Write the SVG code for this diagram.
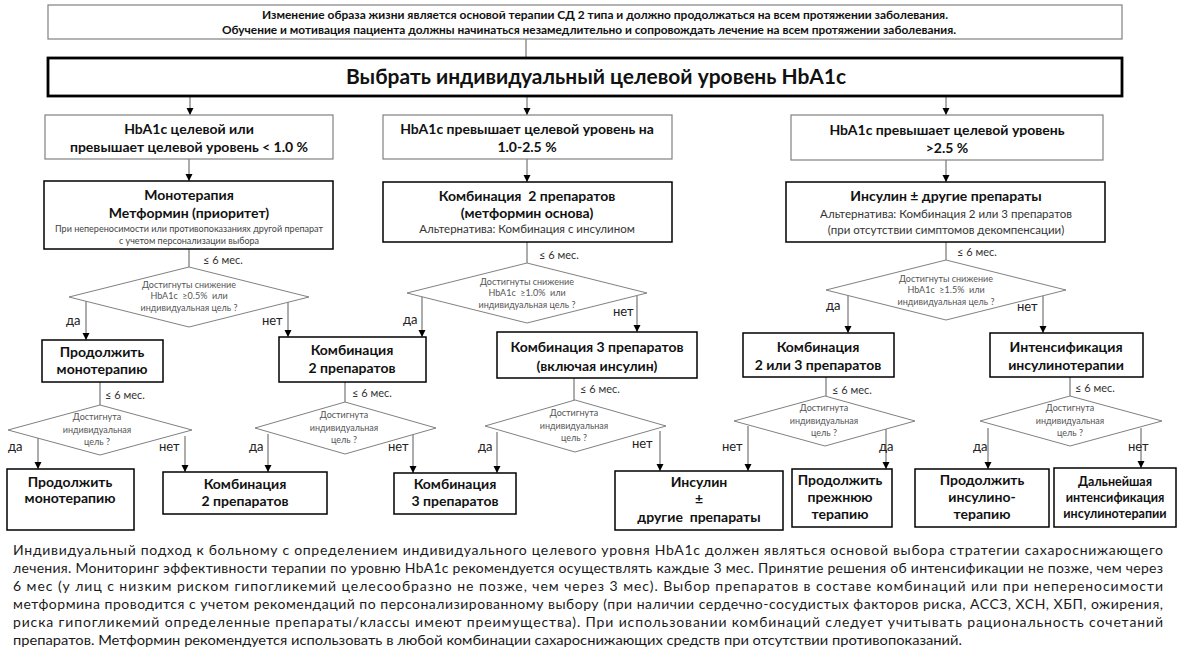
<svg xmlns="http://www.w3.org/2000/svg" width="1191" height="662" viewBox="0 0 1191 662">
<defs>
<marker id="ah" markerWidth="8" markerHeight="8" refX="7" refY="4" orient="auto" markerUnits="userSpaceOnUse"><path d="M0,0.5 L7,4 L0,7.5 z" fill="#000"/></marker>
<style>
text{font-family:Lato,"Liberation Sans",sans-serif;fill:#111}
.box{fill:#fff;stroke:#000;stroke-width:1.5}
.lbox{fill:#fff;stroke:#808080;stroke-width:1.2}
.big{fill:#fff;stroke:#000;stroke-width:2.8}
.dia{fill:#fff;stroke:#808080;stroke-width:1}
.b14{font-size:14px;font-weight:bold;text-anchor:middle}
.b12{font-size:12.5px;font-weight:bold;text-anchor:middle}
.r11{font-size:11.5px;text-anchor:middle;fill:#333}
.r9{font-size:9.5px;text-anchor:middle;fill:#444}
.dt{font-size:9px;text-anchor:middle;fill:#555}
.lab{font-size:13px;fill:#222}
.mes{font-size:11px;fill:#333}
.top{font-size:11px;font-weight:bold}
.par{font-size:14px;fill:#1a1a1a}
.conn{fill:none;stroke:#5a5a5a;stroke-width:1}
.arr{fill:none;stroke:#5a5a5a;stroke-width:1;marker-end:url(#ah)}
</style>
</defs>
<rect width="1191" height="662" fill="#fff"/>

<g id="connectors">
<line class="conn" x1="526" y1="39" x2="526" y2="58"/>
<line class="arr" x1="190" y1="96" x2="190" y2="115"/>
<line class="arr" x1="527" y1="96" x2="527" y2="115"/>
<line class="arr" x1="946" y1="96" x2="946" y2="115"/>
<line class="arr" x1="189" y1="159" x2="189" y2="181"/>
<line class="arr" x1="527" y1="159" x2="527" y2="182"/>
<line class="arr" x1="946" y1="159" x2="946" y2="182"/>
<line class="conn" x1="189" y1="249" x2="189" y2="267"/>
<line class="conn" x1="527" y1="242" x2="527" y2="263"/>
<line class="conn" x1="946" y1="242" x2="946" y2="260"/>
<line class="arr" x1="86" y1="301" x2="86" y2="340"/>
<line class="arr" x1="288" y1="302" x2="288" y2="337"/>
<line class="arr" x1="422" y1="297" x2="422" y2="337"/>
<line class="arr" x1="637" y1="296" x2="637" y2="332"/>
<line class="arr" x1="848" y1="295" x2="848" y2="333"/>
<line class="arr" x1="1043" y1="296" x2="1043" y2="333"/>
<line class="conn" x1="100" y1="382" x2="100" y2="405"/>
<line class="conn" x1="345" y1="382" x2="345" y2="402"/>
<line class="conn" x1="574" y1="378" x2="574" y2="400"/>
<line class="conn" x1="826" y1="377" x2="826" y2="396"/>
<line class="conn" x1="1070" y1="377" x2="1070" y2="396"/>
<line class="arr" x1="38" y1="437" x2="38" y2="469"/>
<line class="arr" x1="185" y1="436" x2="185" y2="472"/>
<line class="arr" x1="268" y1="434" x2="268" y2="472"/>
<line class="arr" x1="413" y1="433" x2="413" y2="473"/>
<line class="arr" x1="497" y1="432" x2="497" y2="473"/>
<line class="arr" x1="660" y1="431" x2="660" y2="471"/>
<line class="arr" x1="748" y1="426" x2="748" y2="471"/>
<line class="arr" x1="886" y1="428" x2="886" y2="469"/>
<line class="arr" x1="988" y1="428" x2="988" y2="469"/>
<line class="arr" x1="1141" y1="428" x2="1141" y2="468"/>
<text class="mes" x="203" y="264">≤ 6 мес.</text>
<text class="mes" x="539" y="259">≤ 6 мес.</text>
<text class="mes" x="957" y="256">≤ 6 мес.</text>
<text class="mes" x="105" y="399">≤ 6 мес.</text>
<text class="mes" x="352" y="397">≤ 6 мес.</text>
<text class="mes" x="580" y="393">≤ 6 мес.</text>
<text class="mes" x="832" y="394">≤ 6 мес.</text>
<text class="mes" x="1075" y="392">≤ 6 мес.</text>
<text class="lab" x="66" y="325">да</text>
<text class="lab" x="262" y="325">нет</text>
<text class="lab" x="403" y="324">да</text>
<text class="lab" x="613" y="316">нет</text>
<text class="lab" x="826" y="310">да</text>
<text class="lab" x="1017" y="311">нет</text>
<text class="lab" x="8" y="451">да</text>
<text class="lab" x="159" y="451">нет</text>
<text class="lab" x="249" y="451">да</text>
<text class="lab" x="388" y="451">нет</text>
<text class="lab" x="478" y="451">да</text>
<text class="lab" x="632" y="448">нет</text>
<text class="lab" x="722" y="451">нет</text>
<text class="lab" x="879" y="451">да</text>
<text class="lab" x="973" y="451">да</text>
<text class="lab" x="1128" y="451">нет</text>
</g>

<g id="top-note">
<rect class="lbox" x="48" y="5" width="1074" height="34"/>
<text class="top" x="262" y="19" textLength="686" lengthAdjust="spacingAndGlyphs">Изменение образа жизни является основой терапии СД 2 типа и должно продолжаться на всем протяжении заболевания.</text>
<text class="top" x="222" y="34" textLength="734" lengthAdjust="spacingAndGlyphs">Обучение и мотивация пациента должны начинаться незамедлительно и сопровождать лечение на всем протяжении заболевания.</text>
</g>

<g id="target">
<rect class="big" x="48" y="58" width="1074" height="38"/>
<text x="596" y="84" style="font-size:20px;font-weight:bold;text-anchor:middle" textLength="500" lengthAdjust="spacingAndGlyphs">Выбрать индивидуальный целевой уровень HbA1c</text>
</g>

<g id="cond-a">
<rect class="lbox" x="45" y="115" width="288" height="44"/>
<text class="b14" x="189" y="134">HbA1c целевой или</text>
<text class="b14" x="189" y="152">превышает целевой уровень &lt; 1.0 %</text>
</g>
<g id="cond-b">
<rect class="lbox" x="383" y="115" width="289" height="44"/>
<text class="b14" x="527" y="134">HbA1c превышает целевой уровень на</text>
<text class="b14" x="527" y="152">1.0-2.5 %</text>
</g>
<g id="cond-c">
<rect class="lbox" x="791" y="115" width="312" height="45"/>
<text class="b14" x="947" y="135">HbA1c превышает целевой уровень</text>
<text class="b14" x="947" y="153">&gt;2.5 %</text>
</g>

<g id="mono">
<rect class="box" x="44" y="181" width="289" height="68"/>
<text class="b14" x="189" y="200">Монотерапия</text>
<text class="b14" x="189" y="218">Метформин (приоритет)</text>
<text class="r9" x="189" y="232" textLength="268" lengthAdjust="spacingAndGlyphs">При непереносимости или противопоказаниях другой препарат</text>
<text class="r9" x="189" y="244" textLength="140" lengthAdjust="spacingAndGlyphs">с учетом персонализации выбора</text>
</g>
<g id="combo2-start">
<rect class="box" x="383" y="182" width="289" height="60"/>
<text class="b14" x="527" y="201" xml:space="preserve">Комбинация  2 препаратов</text>
<text class="b14" x="527" y="218">(метформин основа)</text>
<text class="r11" x="527" y="233">Альтернатива: Комбинация с инсулином</text>
</g>
<g id="insulin-start">
<rect class="box" x="786" y="182" width="319" height="60"/>
<text class="b14" x="946" y="201">Инсулин ± другие препараты</text>
<text class="r11" x="946" y="218">Альтернатива: Комбинация 2 или 3 препаратов</text>
<text class="r11" x="946" y="234">(при отсутствии симптомов декомпенсации)</text>
</g>

<g id="dec1">
<polygon class="dia" points="189,267 309,297 189,327 69,297"/>
<text class="dt" x="189" y="288">Достигнуты снижение</text>
<text class="dt" x="189" y="299" xml:space="preserve">HbA1c  ≥0.5%  или</text>
<text class="dt" x="189" y="311">индивидуальная цель ?</text>
</g>
<g id="dec2">
<polygon class="dia" points="527,263 647,293 527,323 407,293"/>
<text class="dt" x="527" y="285">Достигнуты снижение</text>
<text class="dt" x="527" y="296" xml:space="preserve">HbA1c  ≥1.0%  или</text>
<text class="dt" x="527" y="308">индивидуальная цель ?</text>
</g>
<g id="dec3">
<polygon class="dia" points="946,260 1066,290 946,320 826,290"/>
<text class="dt" x="946" y="282">Достигнуты снижение</text>
<text class="dt" x="946" y="293" xml:space="preserve">HbA1c  ≥1.5%  или</text>
<text class="dt" x="946" y="305">индивидуальная цель ?</text>
</g>

<g id="cont-mono">
<rect class="box" x="42" y="340" width="121" height="42"/>
<text class="b14" x="102" y="357">Продолжить</text>
<text class="b14" x="102" y="374">монотерапию</text>
</g>
<g id="combo2">
<rect class="box" x="279" y="337" width="147" height="45"/>
<text class="b14" x="352" y="355">Комбинация</text>
<text class="b14" x="352" y="373">2 препаратов</text>
</g>
<g id="combo3">
<rect class="box" x="497" y="332" width="200" height="46"/>
<text class="b14" x="597" y="352">Комбинация 3 препаратов</text>
<text class="b14" x="597" y="371">(включая инсулин)</text>
</g>
<g id="combo23">
<rect class="box" x="743" y="333" width="151" height="44"/>
<text class="b14" x="818" y="352">Комбинация</text>
<text class="b14" x="818" y="370">2 или 3 препаратов</text>
</g>
<g id="intens">
<rect class="box" x="990" y="333" width="153" height="44"/>
<text class="b14" x="1066" y="352">Интенсификация</text>
<text class="b14" x="1066" y="370">инсулинотерапии</text>
</g>

<g id="dec4">
<polygon class="dia" points="100,405 192,430 100,455 8,430"/>
<text class="dt" x="97" y="420">Достигнута</text>
<text class="dt" x="97" y="433">индивидуальная</text>
<text class="dt" x="97" y="445">цель ?</text>
</g>
<g id="dec5">
<polygon class="dia" points="345,402 436,428 345,454 255,428"/>
<text class="dt" x="344" y="418">Достигнута</text>
<text class="dt" x="344" y="431">индивидуальная</text>
<text class="dt" x="344" y="443">цель ?</text>
</g>
<g id="dec6">
<polygon class="dia" points="575,400 666,426 575,452 485,426"/>
<text class="dt" x="574" y="416">Достигнута</text>
<text class="dt" x="574" y="429">индивидуальная</text>
<text class="dt" x="574" y="441">цель ?</text>
</g>
<g id="dec7">
<polygon class="dia" points="825,396 915,421 825,446 734,421"/>
<text class="dt" x="824" y="411">Достигнута</text>
<text class="dt" x="824" y="424">индивидуальная</text>
<text class="dt" x="824" y="436">цель ?</text>
</g>
<g id="dec8">
<polygon class="dia" points="1070,396 1162,421 1070,446 980,421"/>
<text class="dt" x="1070" y="411">Достигнута</text>
<text class="dt" x="1070" y="424">индивидуальная</text>
<text class="dt" x="1070" y="436">цель ?</text>
</g>

<g id="end-mono">
<rect class="box" x="7" y="469" width="127" height="61"/>
<text class="b14" x="70" y="487">Продолжить</text>
<text class="b14" x="70" y="503">монотерапию</text>
</g>
<g id="end-combo2">
<rect class="box" x="163" y="472" width="164" height="42"/>
<text class="b14" x="245" y="489">Комбинация</text>
<text class="b14" x="245" y="506">2 препаратов</text>
</g>
<g id="end-combo3">
<rect class="box" x="394" y="473" width="122" height="41"/>
<text class="b14" x="455" y="489">Комбинация</text>
<text class="b14" x="455" y="506">3 препаратов</text>
</g>
<g id="end-insulin">
<rect class="box" x="615" y="471" width="168" height="59"/>
<text class="b14" x="699" y="487">Инсулин</text>
<text class="b14" x="699" y="504">±</text>
<text class="b14" x="699" y="522" xml:space="preserve">другие  препараты</text>
</g>
<g id="end-prev">
<rect class="box" x="792" y="469" width="100" height="58"/>
<text class="b14" x="840" y="485">Продолжить</text>
<text class="b14" x="840" y="502">прежнюю</text>
<text class="b14" x="840" y="519">терапию</text>
</g>
<g id="end-ins">
<rect class="box" x="915" y="469" width="134" height="58"/>
<text class="b14" x="982" y="485">Продолжить</text>
<text class="b14" x="982" y="502">инсулино-</text>
<text class="b14" x="982" y="519">терапию</text>
</g>
<g id="end-intens">
<rect class="box" x="1054" y="468" width="122" height="59"/>
<text class="b12" x="1115" y="486">Дальнейшая</text>
<text class="b12" x="1115" y="502">интенсификация</text>
<text class="b12" x="1115" y="518">инсулинотерапии</text>
</g>

<g id="footnote">
<text class="par" x="13" y="555" textLength="1150" lengthAdjust="spacing">Индивидуальный подход к больному с определением индивидуального целевого уровня HbA1c должен являться основой выбора стратегии сахароснижающего</text>
<text class="par" x="13" y="573" textLength="1150" lengthAdjust="spacing">лечения. Мониторинг эффективности терапии по уровню HbA1c рекомендуется осуществлять каждые 3 мес. Принятие решения об интенсификации не позже, чем через</text>
<text class="par" x="13" y="591" textLength="1150" lengthAdjust="spacing">6 мес (у лиц с низким риском гипогликемий целесообразно не позже, чем через 3 мес). Выбор препаратов в составе комбинаций или при непереносимости</text>
<text class="par" x="13" y="609" textLength="1150" lengthAdjust="spacing">метформина проводится с учетом рекомендаций по персонализированному выбору (при наличии сердечно-сосудистых факторов риска, АССЗ, ХСН, ХБП, ожирения,</text>
<text class="par" x="13" y="627" textLength="1150" lengthAdjust="spacing">риска гипогликемий определенные препараты/классы имеют преимущества). При использовании комбинаций следует учитывать рациональность сочетаний</text>
<text class="par" x="13" y="645" textLength="949" lengthAdjust="spacingAndGlyphs">препаратов. Метформин рекомендуется использовать в любой комбинации сахароснижающих средств при отсутствии противопоказаний.</text>
</g>
</svg>
